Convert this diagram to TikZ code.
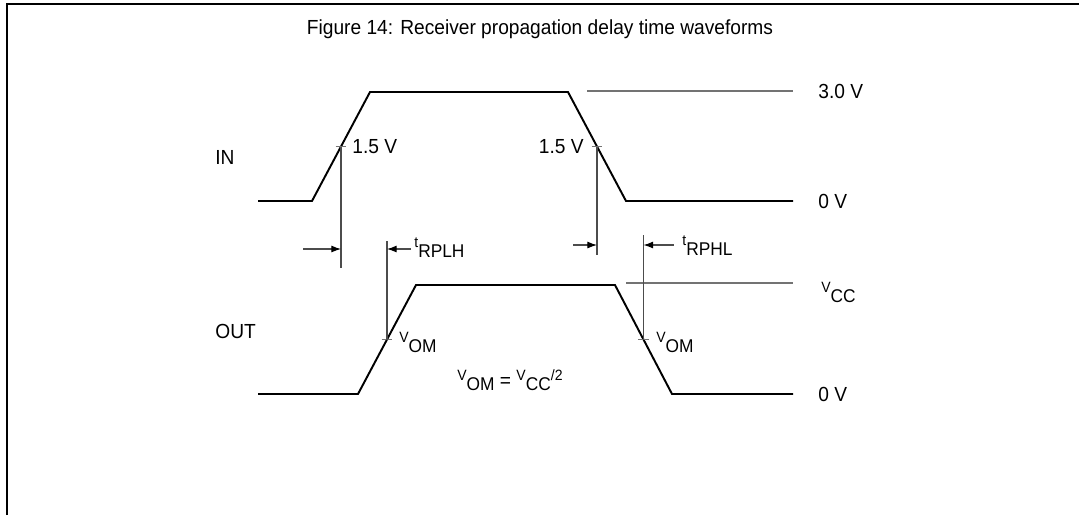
\documentclass[tikz,border=0pt]{standalone}
\usepackage{fontspec}
\setmainfont{Liberation Sans}[FakeStretch=0.94]
\usetikzlibrary{arrows.meta,calc}
\newcommand{\tsig}[2]{{\fontsize{8.5}{10}\selectfont #1}\raisebox{-6.2pt}{\fontsize{10.5}{12}\selectfont #2}}

\begin{document}
\begin{tikzpicture}[x=0.02cm,y=-0.02cm,
	wave/.style={line width=1.1pt},
	refline/.style={line width=0.6pt,black!55},
	dimline/.style={line width=0.6pt,black!70},
	dimarrow/.style={dimline,-{Latex[length=5.5pt,width=4pt,color=black]}},
	lbl/.style={font=\fontsize{11.6}{14}\selectfont,inner sep=0pt}]
	\useasboundingbox (0,0) rectangle (1079,515);
	% frame
	\draw[line width=1.2pt] (7,515) -- (7,4) -- (1079,4);
	\node[lbl] (title) at (540,29) {Figure 14: Receiver propagation delay time waveforms};
	% IN waveform
	\coordinate (in0) at (258,201);
	\coordinate (in1) at (312,201);
	\coordinate (in2) at (370,92);
	\coordinate (in3) at (568,92);
	\coordinate (in4) at (626,201);
	\coordinate (in5) at (793,201);
	\draw[wave] (in0) -- (in1) -- (in2) -- (in3) -- (in4) -- (in5);
	\coordinate (inA) at ($(in1)!0.5!(in2)$);
	\coordinate (inB) at ($(in3)!0.5!(in4)$);
	% OUT waveform
	\coordinate (out0) at (258,394);
	\coordinate (out1) at (358,394);
	\coordinate (out2) at (416,285);
	\coordinate (out3) at (615,285);
	\coordinate (out4) at (672,394);
	\coordinate (out5) at (793,394);
	\draw[wave] (out0) -- (out1) -- (out2) -- (out3) -- (out4) -- (out5);
	\coordinate (outA) at ($(out1)!0.5!(out2)$);
	\coordinate (outB) at ($(out3)!0.5!(out4)$);
	% reference levels
	\draw[refline] (587,91) -- (793,91);
	\draw[refline] (626,283) -- (793,283);
	% crossing ticks
	\foreach \p in {inA,inB,outA,outB}
		\draw[refline] ([xshift=-3pt]\p) -- ([xshift=3pt]\p);
	% delay markers
	\coordinate (lh) at (0,249);
	\coordinate (hl) at (0,245);
	\draw[dimline] (inA) -- ++(0,121);
	\draw[dimline] (outA) -- ++(0,-99);
	\draw[dimline] (inB) -- ++(0,108);
	\draw[dimline] (outB) -- ++(0,-105);
	\draw[dimarrow] ($(inA |- lh)+(-38,0)$) -- (inA |- lh);
	\draw[dimarrow] ($(outA |- lh)+(24,0)$) -- (outA |- lh);
	\draw[dimarrow] ($(inB |- hl)+(-24,0)$) -- (inB |- hl);
	\draw[dimarrow] ($(outB |- hl)+(30,0)$) -- (outB |- hl);
	% labels
	\node[lbl,anchor=west] (lblin) at (215,157) {IN};
	\node[lbl,anchor=west] (lblout) at (215,331) {OUT};
	\node[lbl,anchor=west] (halfA) at (352,147) {1.5 V};
	\node[lbl,anchor=east] (halfB) at (584,147) {1.5 V};
	\node[lbl,anchor=base west] (trplh) at (414,247) {\tsig{t}{RPLH}};
	\node[lbl,anchor=base west] (trphl) at (682,245) {\tsig{t}{RPHL}};
	\node[lbl,anchor=base west] (vomA) at (399,342) {\tsig{V}{OM}};
	\node[lbl,anchor=base west] (vomB) at (656,342) {\tsig{V}{OM}};
	\node[lbl,anchor=west] (v30) at (818,91) {3.0 V};
	\node[lbl,anchor=west] (v0in) at (818,201) {0 V};
	\node[lbl,anchor=base west] (vcc) at (821,292) {\tsig{V}{CC}};
	\node[lbl,anchor=west] (v0out) at (818,394) {0 V};
	\node[lbl,anchor=base west] (vomeq) at (457,380) {\tsig{V}{OM} \raisebox{-4pt}{=} \tsig{V}{CC}{\fontsize{8.5}{10}\selectfont /2}};
\end{tikzpicture}
\end{document}
